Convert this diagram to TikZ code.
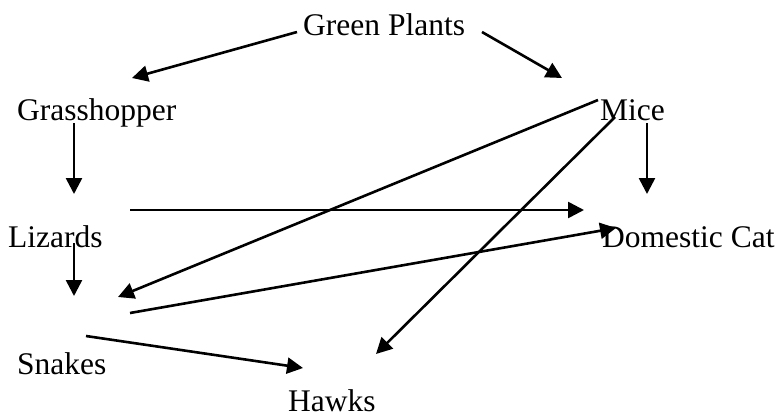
\documentclass[tikz,border=0pt]{standalone}
\usepackage{fontspec}
\setmainfont{Liberation Serif}
\usetikzlibrary{arrows.meta}
\begin{document}
\begin{tikzpicture}[x=1pt,y=-1pt,
  lbl/.style={inner sep=0pt, anchor=base west, text depth=0pt, font=\fontsize{31.5}{36}\selectfont},
  arr/.style={line width=2.6pt, -{Triangle[length=16pt,width=16pt]}}]
\useasboundingbox (0,0) rectangle (779,418);
% labels
\node[lbl] (gp) at (303,35) {Green Plants};
\node[lbl] (gh) at (17,120) {Grasshopper};
\node[lbl] (mi) at (600,120) {Mice};
\node[lbl] (li) at (8,247) {Lizards};
\node[lbl] (dc) at (602,247) {Domestic Cat};
\node[lbl] (sn) at (17,374) {Snakes};
\node[lbl] (hw) at (288,411) {Hawks};
% connector ends
\coordinate (gpL) at (297,32);   \coordinate (ghT) at (132,78);
\coordinate (gpR) at (482,32);   \coordinate (miT) at (562,78);
\coordinate (ghB) at (74,123);   \coordinate (liT) at (74,194);
\coordinate (miB) at (647,123);  \coordinate (dcT) at (647,194);
\coordinate (liR) at (130,210);  \coordinate (dcL) at (584,210);
\coordinate (miL) at (598,100);  \coordinate (snT) at (118,297);
\coordinate (miD) at (615,117);  \coordinate (hwR) at (376,354);
\coordinate (liB) at (74,243);   \coordinate (snU) at (74,296);
\coordinate (snR) at (130,313);  \coordinate (dcW) at (616,228);
\coordinate (snL) at (86,336);   \coordinate (hwL) at (303,368);
% connectors
\draw[arr] (gpL) -- (ghT);
\draw[arr] (gpR) -- (miT);
\draw[arr] (ghB) -- (liT);
\draw[arr] (miB) -- (dcT);
\draw[arr] (liR) -- (dcL);
\draw[arr] (miL) -- (snT);
\draw[arr] (miD) -- (hwR);
\draw[arr] (liB) -- (snU);
\draw[arr] (snR) -- (dcW);
\draw[arr] (snL) -- (hwL);
\end{tikzpicture}
\end{document}
